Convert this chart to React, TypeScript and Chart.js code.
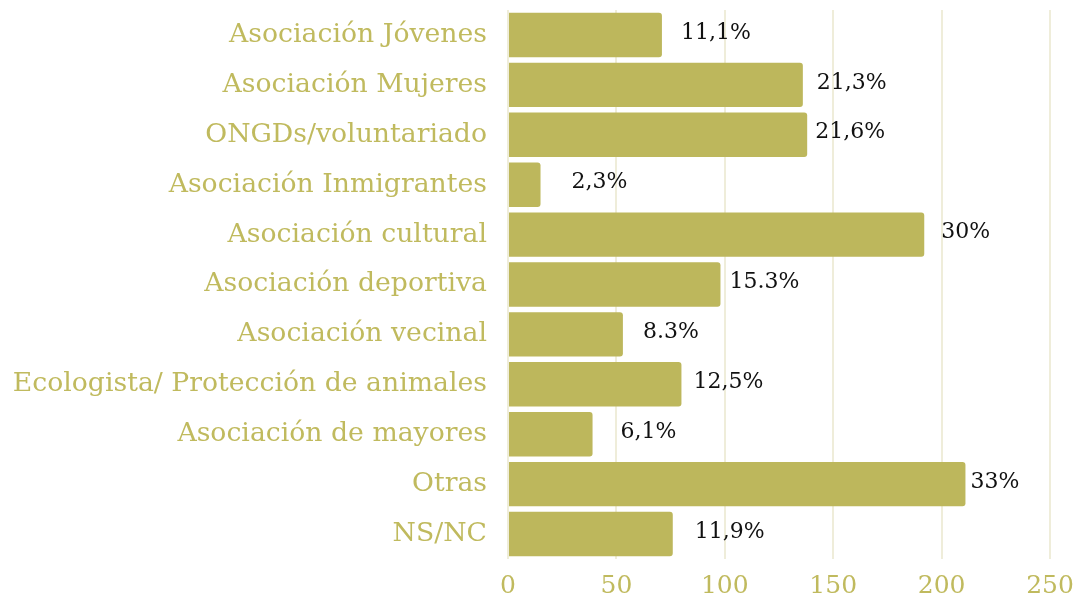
import React, { useEffect, useRef } from "react";
import { Chart, registerables } from "chart.js";

Chart.register(...registerables);

const categories = [
  "Asociación Jóvenes",
  "Asociación Mujeres",
  "ONGDs/voluntariado",
  "Asociación Inmigrantes",
  "Asociación cultural",
  "Asociación deportiva",
  "Asociación vecinal",
  "Ecologista/ Protección de animales",
  "Asociación de mayores",
  "Otras",
  "NS/NC",
];
const counts = [71, 136, 138, 15, 192, 98, 53, 80, 39, 211, 76];
const percentLabels = [
  "11,1%",
  "21,3%",
  "21,6%",
  "2,3%",
  "30%",
  "15.3%",
  "8.3%",
  "12,5%",
  "6,1%",
  "33%",
  "11,9%",
];
const xMin = 0;
const xMax = 250;
const xStep = 50;

// horizontal gap (px) between each bar end and its label, as in the original
const labelGaps = [19, 14, 8, 31, 17, 9, 20, 12, 28, 5, 22];

const OLIVE = "#BDB75C";
const TEXT_OLIVE = "#C0BA5E";
const GRID = "#EFEDDA";
const FONT = '"DejaVu Serif", serif';

const valueLabelPlugin = {
  id: "valueLabels",
  afterDatasetsDraw(chart: any) {
    const ctx = chart.ctx;
    const meta = chart.getDatasetMeta(0);
    ctx.save();
    ctx.font = `22px ${FONT}`;
    ctx.fillStyle = "#111111";
    ctx.textAlign = "left";
    ctx.textBaseline = "middle";
    meta.data.forEach((bar: any, i: number) => {
      ctx.fillText(percentLabels[i], bar.x + labelGaps[i], bar.y - 2);
    });
    ctx.restore();
  },
};

export default function App() {
  const canvasRef = useRef<HTMLCanvasElement | null>(null);

  useEffect(() => {
    document.body.style.margin = "0";
    const canvas = canvasRef.current;
    if (!canvas) return;
    const chart = new Chart(canvas, {
      type: "bar",
      data: {
        labels: categories,
        datasets: [
          {
            data: counts,
            backgroundColor: OLIVE,
            borderRadius: 3,
            borderSkipped: "start",
            categoryPercentage: 1,
            barPercentage: 0.89,
          },
        ],
      },
      options: {
        indexAxis: "y",
        responsive: false,
        animation: false,
        layout: { padding: { top: 10, right: 29, left: 0, bottom: 0 } },
        plugins: {
          legend: { display: false },
          tooltip: { enabled: false },
        },
        scales: {
          x: {
            min: xMin,
            max: xMax,
            ticks: {
              stepSize: xStep,
              color: TEXT_OLIVE,
              font: { family: FONT, size: 25 },
              padding: 12,
            },
            grid: { color: GRID, lineWidth: 2, drawTicks: false },
            border: { display: false },
            afterFit(scale: any) {
              scale.height = 39;
              scale.paddingLeft = 0;
              scale.paddingRight = 0;
            },
          },
          y: {
            ticks: {
              color: TEXT_OLIVE,
              font: { family: FONT, size: 26.7 },
              padding: 21,
            },
            grid: { display: false, drawTicks: false },
            border: { display: false },
            afterFit(scale: any) {
              scale.width = 508;
              scale.paddingTop = 0;
              scale.paddingBottom = 0;
            },
          },
        },
      },
      plugins: [valueLabelPlugin],
    });
    return () => chart.destroy();
  }, []);

  return (
    <div style={{ width: 1079, height: 598 }}>
      <canvas ref={canvasRef} width={1079} height={598} />
    </div>
  );
}
